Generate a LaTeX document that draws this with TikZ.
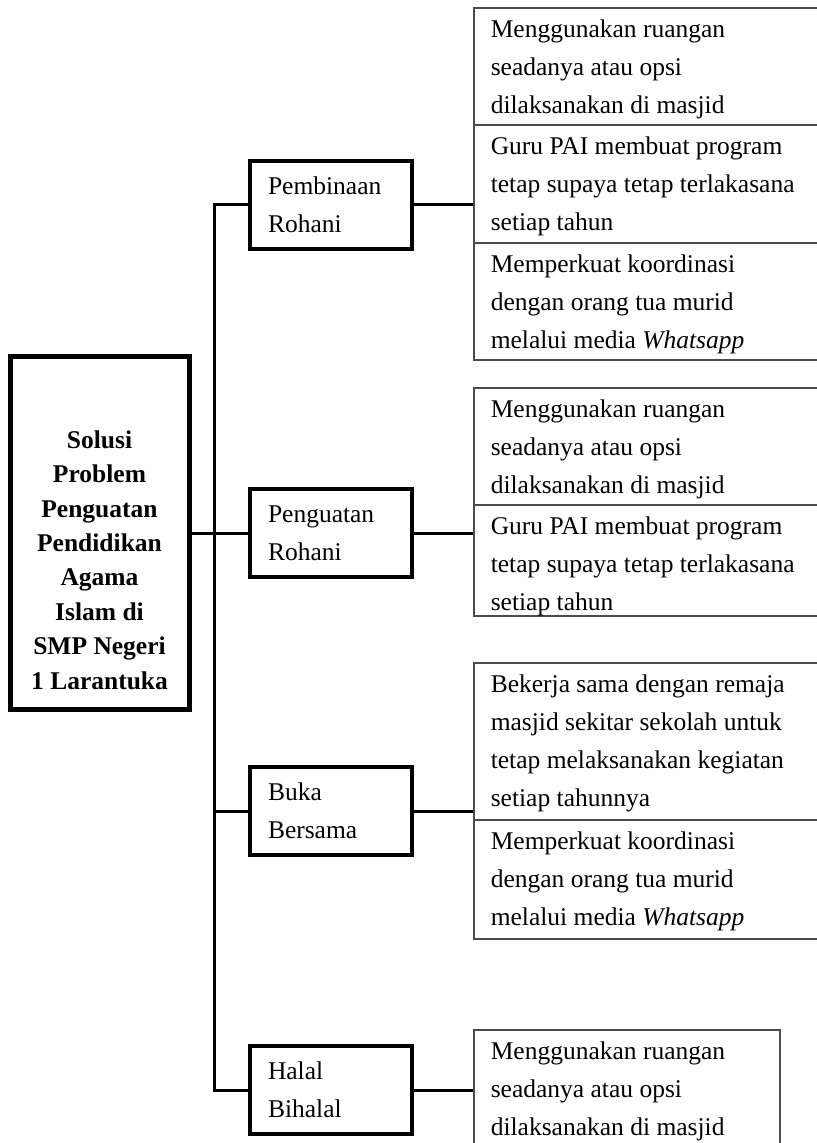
\documentclass[tikz,border=0pt]{standalone}
\usepackage{fontspec}
\setmainfont{Liberation Serif}
\usepackage{tikz}
\newcommand{\cell}[3]{\parbox[c][#2][t]{#1}{\raggedright\rule{0pt}{15pt}#3}}

\begin{document}
\begin{tikzpicture}[x=0.5pt,y=-0.5pt,font=\fontsize{12.75pt}{19pt}\selectfont]
    \tikzstyle{pokok}=[draw,line width=2.5pt,minimum width=89.5pt,minimum height=176pt]
    \tikzstyle{kegiatan}=[draw,line width=1.7pt,minimum width=81pt,minimum height=44pt,text width=63pt,inner xsep=9pt,align=left]
    \tikzstyle{solusi}=[draw=black!70,line width=0.8pt,inner xsep=8.5pt,inner ysep=0pt,anchor=north west]
    \tikzstyle{link}=[line width=1.5pt]
    \useasboundingbox (0,0) rectangle (816,1143);
    \node[pokok] (S) at (99.5,533) {};
    \node[align=center,font=\fontsize{12.75pt}{17.2pt}\selectfont\bfseries] (S_txt) at (99.5,560) {Solusi\\Problem\\Penguatan\\Pendidikan\\Agama\\Islam di\\SMP Negeri\\1 Larantuka};
    \node[kegiatan] (K_1) at (331,205) {Pembinaan\\Rohani};
    \node[kegiatan] (K_2) at (331,533) {Penguatan\\Rohani};
    \node[kegiatan] (K_3) at (331,811) {Buka\\Bersama};
    \node[kegiatan] (K_4) at (331,1090) {Halal\\Bihalal};
    \coordinate (bus) at (214,0);
    \node[solusi] (L_11) at (473,7) {\cell{164pt}{58.5pt}{Menggunakan ruangan\\seadanya atau opsi\\dilaksanakan di masjid}};
    \node[solusi] (L_12) at (473,124) {\cell{164pt}{59pt}{Guru PAI membuat program\\tetap supaya tetap terlakasana\\setiap tahun}};
    \node[solusi] (L_13) at (473,242) {\cell{164pt}{58.5pt}{Memperkuat koordinasi\\dengan orang tua murid\\melalui media \textit{Whatsapp}}};
    \node[solusi] (L_21) at (473,387) {\cell{164pt}{58.5pt}{Menggunakan ruangan\\seadanya atau opsi\\dilaksanakan di masjid}};
    \node[solusi] (L_22) at (473,504) {\cell{164pt}{55.5pt}{Guru PAI membuat program\\tetap supaya tetap terlakasana\\setiap tahun}};
    \node[solusi] (L_31) at (473,662) {\cell{164pt}{78.5pt}{Bekerja sama dengan remaja\\masjid sekitar sekolah untuk\\tetap melaksanakan kegiatan\\setiap tahunnya}};
    \node[solusi] (L_32) at (473,819) {\cell{164pt}{59.5pt}{Memperkuat koordinasi\\dengan orang tua murid\\melalui media \textit{Whatsapp}}};
    \node[solusi] (L_41) at (473,1029) {\cell{136pt}{58pt}{Menggunakan ruangan\\seadanya atau opsi\\dilaksanakan di masjid}};
    \draw[link] (S.east) -- (K_2.west);
    \draw[link] (K_1.west) -- (K_1.west -| bus) -- (K_4.west -| bus) -- (K_4.west);
    \draw[link] (K_3.west -| bus) -- (K_3.west);
    \draw[link] (K_1.east) -- (K_1.east -| L_12.west);
    \draw[link] (K_2.east) -- (K_2.east -| L_22.west);
    \draw[link] (K_3.east) -- (K_3.east -| L_31.west);
    \draw[link] (K_4.east) -- (K_4.east -| L_41.west);
\end{tikzpicture}
\end{document}
